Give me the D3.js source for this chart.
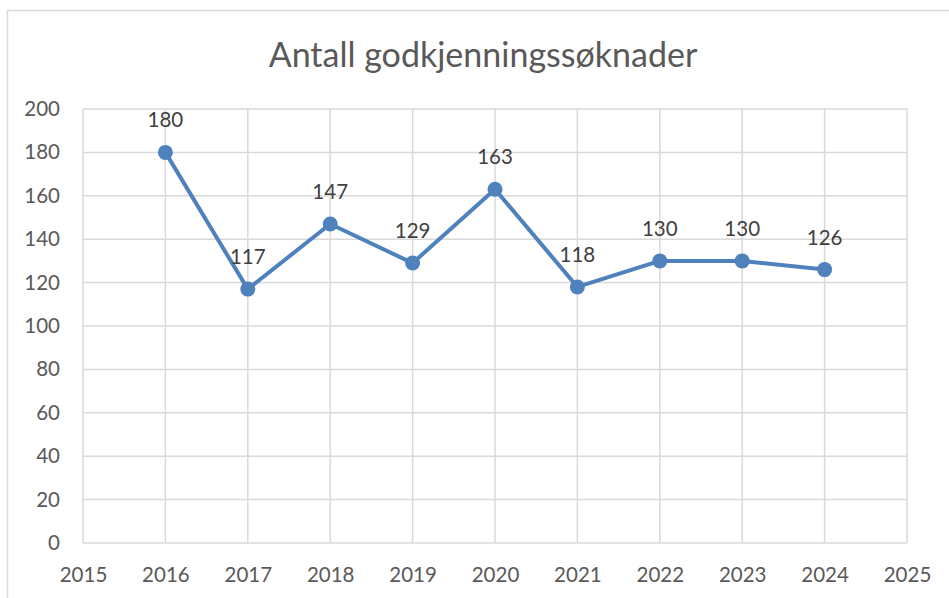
<!DOCTYPE html>
<html><head><meta charset="utf-8">
<script src="https://cdn.jsdelivr.net/npm/d3@7"></script>
<style>body{margin:0;background:#fff;} svg{display:block;}</style>
</head><body>
<svg id="c" width="949" height="598"></svg>
<script>
const title = "Antall godkjenningssøknader";
const years = [2016, 2017, 2018, 2019, 2020, 2021, 2022, 2023, 2024];
const values = [180, 117, 147, 129, 163, 118, 130, 130, 126];
const xTicks = [2015, 2016, 2017, 2018, 2019, 2020, 2021, 2022, 2023, 2024, 2025];
const yTicks = [0, 20, 40, 60, 80, 100, 120, 140, 160, 180, 200];

const svg = d3.select("#c");
const font = "Lato, 'Open Sans', sans-serif";
const txt = "#595959";
const grid = "#d9d9d9";
const lineC = "#4f81bd";

svg.append("rect").attr("x", 7.5).attr("y", 10.5).attr("width", 960).attr("height", 600)
  .attr("fill", "#fff").attr("stroke", "#d9d9d9").attr("stroke-width", 1.5);

const x = d3.scaleLinear().domain([2015, 2025]).range([83, 907]);
const y = d3.scaleLinear().domain([0, 200]).range([543, 109]);

svg.append("text").attr("x", 483).attr("y", 67).attr("text-anchor", "middle")
  .attr("font-family", font).attr("font-size", 34).attr("fill", txt).text(title);

// gridlines
const g = svg.append("g");
g.selectAll("line.h").data(yTicks).join("line").attr("class", "h")
  .attr("x1", x(2015)).attr("x2", x(2025)).attr("y1", d => y(d)).attr("y2", d => y(d))
  .attr("stroke", grid).attr("stroke-width", 1.5);
g.selectAll("line.v").data(xTicks).join("line").attr("class", "v")
  .attr("x1", d => x(d)).attr("x2", d => x(d)).attr("y1", y(0)).attr("y2", y(200))
  .attr("stroke", grid).attr("stroke-width", 1.5);

// axes
const yAxis = d3.axisLeft(y).tickValues(yTicks).tickSize(0).tickPadding(23);
const ya = svg.append("g").attr("transform", `translate(${x(2015)},0)`).call(yAxis);
ya.select(".domain").remove();
ya.selectAll("text").attr("font-family", font).attr("font-size", 20.5).attr("fill", txt);

const xAxis = d3.axisBottom(x).tickValues(xTicks).tickFormat(d3.format("d")).tickSize(0).tickPadding(24);
const xa = svg.append("g").attr("transform", `translate(0,${y(0)})`).call(xAxis);
xa.select(".domain").remove();
xa.selectAll("text").attr("font-family", font).attr("font-size", 20.5).attr("fill", txt);

const pts = years.map((yr, i) => ({yr, v: values[i]}));
svg.append("path").datum(pts)
  .attr("d", d3.line().x(d => x(d.yr)).y(d => y(d.v)))
  .attr("fill", "none").attr("stroke", lineC).attr("stroke-width", 4).attr("stroke-linejoin", "round");
svg.selectAll("circle.p").data(pts).join("circle").attr("class", "p")
  .attr("cx", d => x(d.yr)).attr("cy", d => y(d.v)).attr("r", 7.5).attr("fill", lineC);
svg.selectAll("text.l").data(pts).join("text").attr("class", "l")
  .attr("x", d => x(d.yr)).attr("y", d => y(d.v) - 25).attr("text-anchor", "middle")
  .attr("font-family", font).attr("font-size", 20.5).attr("fill", "#404040").text(d => d.v);
</script>
</body></html>
